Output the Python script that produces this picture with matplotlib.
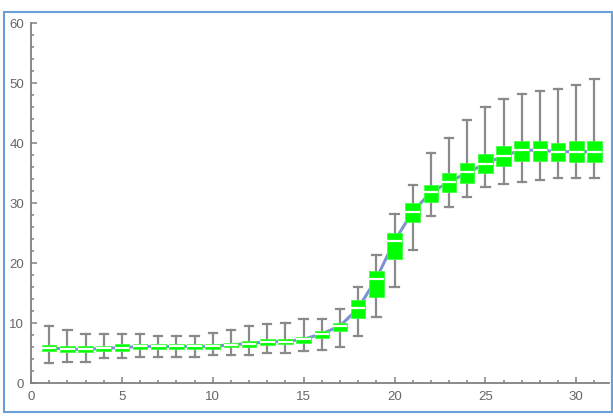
import matplotlib
matplotlib.use("Agg")
import matplotlib.pyplot as plt
from matplotlib.patches import Rectangle
from matplotlib.ticker import MultipleLocator

days = list(range(1, 32))
whisk_lo = [3.3, 3.55, 3.55, 4.1, 4.1, 4.4, 4.4, 4.4, 4.4, 4.7,
            4.7, 4.7, 5.05, 5.05, 5.3, 5.5, 6.05, 7.8, 10.95, 16.05,
            22.2, 27.8, 29.3, 30.95, 32.6, 33.2, 33.45, 33.8, 34.1, 34.1, 34.1]
q1 = [5.4, 5.1, 5.1, 5.4, 5.4, 5.7, 5.7, 5.7, 5.7, 5.7,
      6.05, 6.05, 6.3, 6.5, 6.6, 7.45, 8.7, 10.8, 14.4, 20.6,
      26.9, 30.2, 31.9, 33.4, 35.05, 36.2, 37.05, 37.05, 37.05, 36.8, 36.8]
median = [5.9, 5.6, 5.6, 5.8, 5.9, 6.1, 6.1, 6.1, 6.1, 6.1,
          6.4, 6.55, 6.9, 6.9, 7.3, 8.2, 9.5, 12.45, 17.4, 23.7,
          28.55, 31.8, 33.45, 35.1, 36.5, 37.9, 38.8, 38.8, 38.55, 38.55, 38.55]
q3 = [6.4, 6.2, 6.2, 6.2, 6.5, 6.5, 6.5, 6.5, 6.5, 6.5,
      6.7, 7.05, 7.4, 7.3, 7.7, 8.7, 10.05, 13.8, 18.6, 25.05,
      29.95, 33.0, 34.95, 36.7, 38.1, 39.5, 40.4, 40.4, 40.05, 40.4, 40.4]
whisk_hi = [9.5, 8.9, 8.1, 8.1, 8.1, 8.1, 7.8, 7.8, 7.8, 8.4,
            8.9, 9.5, 9.8, 10.05, 10.6, 10.6, 12.3, 16.05, 21.3, 28.2,
            33.0, 38.3, 40.8, 43.9, 45.95, 47.3, 48.2, 48.7, 49.0, 49.6, 50.7]

W, H = 613, 417
fig = plt.figure(figsize=(W / 100, H / 100), dpi=100)
ax = fig.add_axes([31 / W, 34 / H, 578 / W, 360 / H])

stats = []
for i in range(len(days)):
    stats.append(dict(whislo=whisk_lo[i], q1=q1[i], med=median[i],
                      q3=q3[i], whishi=whisk_hi[i], fliers=[]))

grey = "#8a8a8a"
ax.plot(days, median, color="#7b93cf", lw=2.2, zorder=2)
ax.bxp(stats, positions=days, widths=0.8, patch_artist=True,
       showfliers=False, manage_ticks=False, capwidths=0.46,
       boxprops=dict(facecolor="#00ff00", edgecolor="#40ff40", lw=0.6, zorder=3),
       medianprops=dict(color="white", lw=1.6, zorder=4),
       whiskerprops=dict(color=grey, lw=1.6, zorder=1),
       capprops=dict(color=grey, lw=1.6, zorder=1))

ax.set_xlim(0, 31.8)
ax.set_ylim(0, 60)
for s in ["top", "right"]:
    ax.spines[s].set_visible(False)
for s in ["left", "bottom"]:
    ax.spines[s].set_color("#808080")
    ax.spines[s].set_linewidth(1.3)

ax.xaxis.set_major_locator(MultipleLocator(5))
ax.xaxis.set_minor_locator(MultipleLocator(1))
ax.yaxis.set_major_locator(MultipleLocator(10))
ax.yaxis.set_minor_locator(MultipleLocator(2))
ax.tick_params(which="both", direction="in", color="#808080", width=1.1,
               labelcolor="#666666", labelsize=9.5)
ax.tick_params(which="major", length=4.5)
ax.tick_params(which="minor", length=2.5)
ax.tick_params(axis="x", which="major", pad=6)
ax.tick_params(axis="y", which="major", pad=5)
for lab in ax.get_xticklabels() + ax.get_yticklabels():
    lab.set_family("Liberation Sans")

fig.patches.append(Rectangle((4 / W, 5 / H), 608 / W, 400 / H,
                             transform=fig.transFigure, fill=False,
                             edgecolor="#6a9fd8", lw=1.5))

fig.savefig("out.png", dpi=100)
